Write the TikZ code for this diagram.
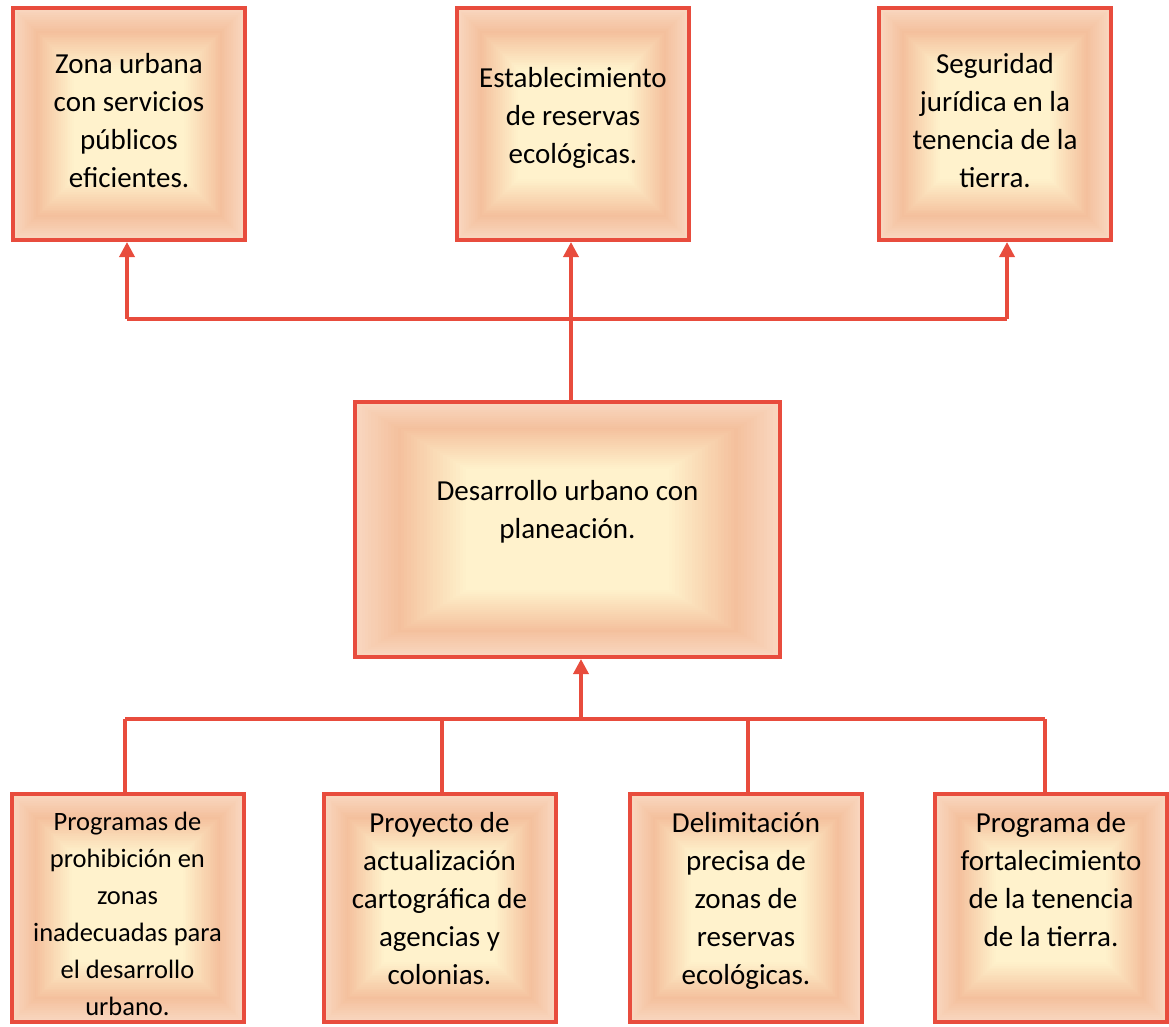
\documentclass[tikz,border=0pt]{standalone}
\usepackage{fontspec}
\setmainfont{Carlito}
\usetikzlibrary{arrows.meta,calc}

\definecolor{rojo}{HTML}{E84C3D}
\definecolor{borde}{HTML}{F9D7C0}
\definecolor{banda}{HTML}{F4C09D}
\definecolor{crema}{HTML}{FFF2CC}

\tikzset{
  caja/.style={draw=rojo, line width=4pt, minimum width=232pt, minimum height=232pt, inner sep=0pt,
    path picture={
      \foreach \k in {0,...,64}{
        \pgfmathsetmacro\ringS{\k/65}
        \pgfmathsetmacro\ringF{\ringS/2}
        \ifdim\ringS pt<0.2pt
          \pgfmathsetmacro\ringP{100*\ringS/0.2}
          \colorlet{anillo}{banda!\ringP!borde}
        \else
          \pgfmathsetmacro\ringP{min(100,100*(\ringS-0.2)/0.32)}
          \colorlet{anillo}{crema!\ringP!banda}
        \fi
        \fill[anillo] ($(path picture bounding box.south west)!\ringF!(path picture bounding box.north east)$)
          rectangle ($(path picture bounding box.north east)!\ringF!(path picture bounding box.south west)$);
      }
    }},
  texto/.style={align=center, anchor=base, inner sep=0pt, font=\fontsize{29}{38}\selectfont},
  linea/.style={draw=rojo, line width=3.5pt},
  flecha/.style={linea, -{Triangle[width=15pt,length=15pt]}}
}

\begin{document}
\begin{tikzpicture}[x=1pt, y=-1pt]
  \useasboundingbox (0,0) rectangle (1169,1026);

  % Resultados
  \node[caja] (z1) at (129,124) {};
  \node[caja] (z2) at (573,124) {};
  \node[caja] (z3) at (995,124) {};
  \node[texto] (tz1) at (z1 |- 0,187) {Zona urbana\\con servicios\\públicos\\eficientes.};
  \node[texto] (tz2) at (z2 |- 0,163) {Establecimiento\\de reservas\\ecológicas.};
  \node[texto] (tz3) at (z3 |- 0,187) {Seguridad\\jurídica en la\\tenencia de la\\tierra.};

  % Objetivo central
  \node[caja, minimum width=425pt, minimum height=255pt] (m) at (567.5,529.5) {};
  \node[texto] (tm) at (m |- 0,538) {Desarrollo urbano con\\planeación.};

  % Acciones
  \node[caja, minimum height=228pt] (b1) at (127.5,908) {};
  \node[caja, minimum height=228pt] (b2) at (439.5,908) {};
  \node[caja, minimum height=228pt] (b3) at (746,908) {};
  \node[caja, minimum height=228pt] (b4) at (1051,908) {};
  \node[texto, font=\fontsize{26.5}{37}\selectfont] (tb1) at (b1 |- 0,1015)
    {Programas de\\prohibición en\\zonas\\inadecuadas para\\el desarrollo\\urbano.};
  \node[texto] (tb2) at (b2 |- 0,984) {Proyecto de\\actualización\\cartográfica de\\agencias y\\colonias.};
  \node[texto] (tb3) at (b3 |- 0,984) {Delimitación\\precisa de\\zonas de\\reservas\\ecológicas.};
  \node[texto] (tb4) at (b4 |- 0,946) {Programa de\\fortalecimiento\\de la tenencia\\de la tierra.};

  % Conectores de arriba
  \coordinate (ja) at (571,319);
  \coordinate (jl) at (127,319);
  \coordinate (jr) at (1007,319);
  \draw[linea] (jl) -- (jr);
  \draw[flecha] (m.north -| ja) -- (ja |- z2.south);
  \draw[flecha] (jl) -- (jl |- z1.south);
  \draw[flecha] (jr) -- (jr |- z3.south);

  % Conectores de abajo
  \coordinate (jb) at (581,719);
  \coordinate (jb1) at (125,719);
  \coordinate (jb2) at (442,719);
  \coordinate (jb3) at (748,719);
  \coordinate (jb4) at (1045,719);
  \draw[linea] (jb1) -- (jb4);
  \draw[flecha] (jb) -- (jb |- m.south);
  \foreach \j/\b in {jb1/b1, jb2/b2, jb3/b3, jb4/b4}
    \draw[linea] (\j) -- (\j |- \b.north);
\end{tikzpicture}
\end{document}
